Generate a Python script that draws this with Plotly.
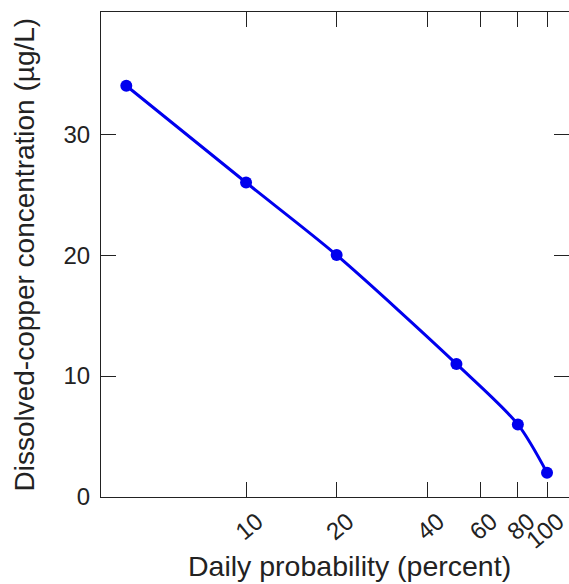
import plotly.graph_objects as go

# Data
probability = [4, 10, 20, 50, 80, 100]          # Daily probability (percent)
copper = [34, 26, 20, 11, 6, 2]                 # Dissolved-copper concentration (ug/L)
x_tick_vals = [10, 20, 40, 60, 80, 100]
x_tick_text = ["10", "20", "40", "60", "80", "100"]
y_tick_vals = [0, 10, 20, 30]

W, H = 569, 584
ML, MR, MT, MB = 101, 0, 12, 87

font_family = "Liberation Sans, Arial, sans-serif"
blue = "#0000ee"

fig = go.Figure()
fig.add_trace(go.Scatter(
    x=probability, y=copper, mode="lines+markers",
    line=dict(color=blue, width=3, shape="spline", smoothing=0.8),
    marker=dict(color=blue, size=12),
    showlegend=False, cliponaxis=False,
))
# invisible trace to host right-side ticks
fig.add_trace(go.Scatter(
    x=probability, y=copper, mode="lines", yaxis="y2",
    line=dict(color="rgba(0,0,0,0)", width=0), hoverinfo="skip",
    showlegend=False,
))

axis_common = dict(
    ticks="inside", ticklen=15, tickwidth=1, tickcolor="#222",
    linecolor="#222", linewidth=1.2, showgrid=False, zeroline=False,
    automargin=False, ticklabeloverflow="allow",
    tickfont=dict(family=font_family, size=24, color="#222"),
)

fig.update_layout(
    width=W, height=H,
    margin=dict(l=ML, r=MR, t=MT, b=MB, autoexpand=False),
    paper_bgcolor="white", plot_bgcolor="white",
    xaxis=dict(
        type="log", range=[0.518, 2.073],
        tickvals=x_tick_vals, ticktext=x_tick_text,
        tickangle=-40, ticklabelshift=11,
        showline=True, mirror="ticks",
        **axis_common,
    ),
    yaxis=dict(
        range=[0, 40.1], tickvals=y_tick_vals,
        showline=True, mirror=False, ticklabelstandoff=5,
        **axis_common,
    ),
    yaxis2=dict(
        range=[0, 40.1], tickvals=y_tick_vals, overlaying="y", side="right",
        showline=False, showticklabels=False, automargin=False,
        ticks="inside", ticklen=15, tickwidth=1, tickcolor="#222",
        showgrid=False, zeroline=False,
    ),
    annotations=[
        dict(text="Daily probability (percent)", xref="paper", yref="paper",
             x=0.53, y=-0.142, xanchor="center", yanchor="middle",
             showarrow=False, font=dict(family=font_family, size=28.5, color="#222")),
        dict(text="Dissolved-copper concentration (µg/L)", xref="paper", yref="paper",
             x=-0.1645, y=0.5, xanchor="center", yanchor="middle", textangle=-90,
             showarrow=False, font=dict(family=font_family, size=28, color="#222")),
    ],
)

fig.write_html(
    "out.html",
    config={"displayModeBar": False},
    post_script="document.body.style.margin='0';document.body.style.overflow='hidden';",
)
